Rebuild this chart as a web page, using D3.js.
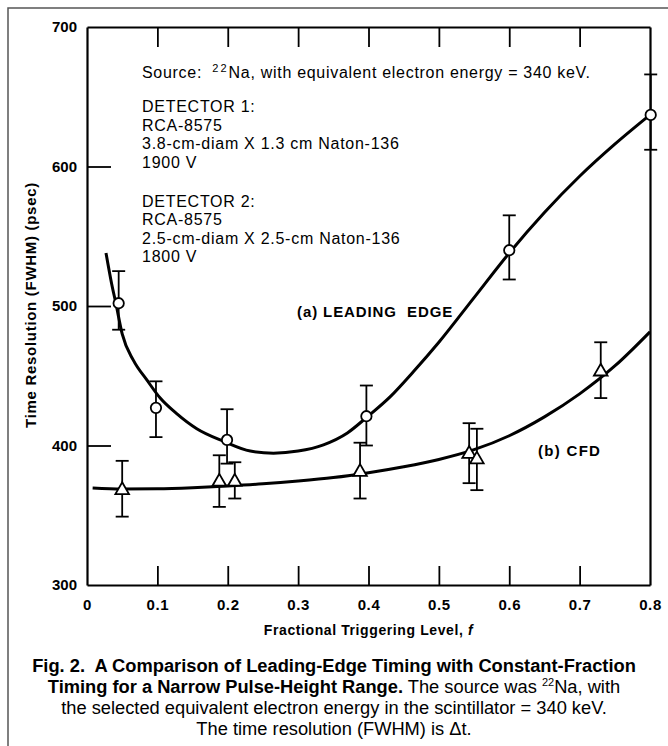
<!DOCTYPE html>
<html>
<head>
<meta charset="utf-8">
<script src="https://cdn.jsdelivr.net/npm/d3@7"></script>
<style>
  html, body { margin: 0; padding: 0; background: #fff; }
  svg { display: block; }
  text { font-family: "Liberation Sans", Arial, Helvetica, sans-serif; fill: #000; }
</style>
</head>
<body>
<svg id="chart" width="668" height="746"></svg>
<script>
// ---- data ----
const xTicks = [0, 0.1, 0.2, 0.3, 0.4, 0.5, 0.6, 0.7, 0.8];
const yTicks = [300, 400, 500, 600, 700];

// (a) leading edge: measured points (circles)
const leFrac = [0.045, 0.098, 0.199, 0.397, 0.600, 0.801];
const leRes  = [502, 427, 404, 421, 540, 637];
const leLo   = [483, 406, 387, 400, 519, 612];
const leHi   = [525, 446, 426, 443, 565, 666];

// (b) CFD: measured points (triangles)
const cfdFrac = [0.050, 0.188, 0.210, 0.388, 0.543, 0.554, 0.730];
const cfdRes  = [368, 374, 374, 381, 394, 390, 453];
const cfdLo   = [349, 356, 362, 362, 373, 368, 434];
const cfdHi   = [389, 393, 388, 402, 416, 412, 474];

// fitted curves
const leCurveFrac = [0.027, 0.035, 0.041, 0.050, 0.066, 0.085, 0.104, 0.127, 0.156, 0.194, 0.232, 0.265, 0.300, 0.336, 0.370, 0.397, 0.431, 0.464, 0.500, 0.550, 0.600, 0.650, 0.700, 0.750, 0.800];
const leCurveRes  = [538, 516, 502, 480, 461, 447, 434, 423, 412, 403, 396, 394.5, 396, 400.5, 409, 420, 435, 453, 474, 506, 538, 567, 593, 616, 637];
const cfdCurveFrac = [0.008, 0.05, 0.10, 0.15, 0.20, 0.25, 0.30, 0.35, 0.40, 0.45, 0.50, 0.55, 0.60, 0.65, 0.70, 0.75, 0.80];
const cfdCurveRes  = [369.5, 368.8, 369, 369.8, 371, 372.5, 374.5, 377, 380.5, 384.8, 390, 397, 407, 420.5, 437, 457, 481.5];

const annotLines = [
  "DETECTOR 1:", "RCA-8575", "3.8-cm-diam X 1.3 cm Naton-136", "1900 V",
  "DETECTOR 2:", "RCA-8575", "2.5-cm-diam X 2.5-cm Naton-136", "1800 V"
];

// ---- drawing ----
(function () {
const svg = d3.select("#chart");
const pL = 87, pR = 650, pT = 27, pB = 585;

const x = d3.scaleLinear().domain([0, 0.8]).range([pL, pR]);
const y = d3.scaleLinear().domain([300, 700]).range([pB, pT]);

// outer frame
svg.append("rect").attr("x", 8).attr("y", 8).attr("width", 700).attr("height", 800)
  .attr("fill", "none").attr("stroke", "#555").attr("stroke-width", 1.5);

// axes
const bottomAxis = d3.axisBottom(x).tickValues(xTicks).tickSizeInner(-19).tickSizeOuter(0)
  .tickPadding(14).tickFormat(d => d === 0 ? "0" : d3.format(".1f")(d));
const gB = svg.append("g").attr("transform", `translate(0,${pB})`).call(bottomAxis);

const topAxis = d3.axisTop(x).tickValues(xTicks.slice(1, -1)).tickSizeInner(-20).tickSizeOuter(0).tickFormat("");
const gT = svg.append("g").attr("transform", `translate(0,${pT})`).call(topAxis);

const leftAxis = d3.axisLeft(y).tickValues(yTicks).tickSizeInner(-24).tickSizeOuter(0).tickPadding(10)
  .tickFormat(d3.format("d"));
const gL = svg.append("g").attr("transform", `translate(${pL},0)`).call(leftAxis);

const rightAxis = d3.axisRight(y).tickValues([]).tickSizeOuter(0);
const gR = svg.append("g").attr("transform", `translate(${pR},0)`).call(rightAxis);

[gB, gT, gL, gR].forEach(g => {
  g.select(".domain").attr("stroke", "#000").attr("stroke-width", 2.2);
  g.selectAll(".tick line").attr("stroke", "#000").attr("stroke-width", 1.8);
  g.selectAll(".tick text").attr("font-size", 15).attr("font-weight", "bold")
    .attr("fill", "#000").style("font-family", '"Liberation Sans", Arial, sans-serif');
});
gB.selectAll(".tick text").attr("letter-spacing", 0.6);
gB.selectAll(".tick line").filter(d => d === 0 || d === 0.8).remove();
gL.selectAll(".tick line").filter(d => d === 300 || d === 700).remove();

// axis titles
svg.append("text").attr("x", (pL + pR) / 2).attr("y", 635)
  .attr("text-anchor", "middle").attr("font-size", 14).attr("font-weight", "bold")
  .attr("letter-spacing", 0.6)
  .call(t => {
    t.append("tspan").text("Fractional Triggering Level, ");
    t.append("tspan").attr("font-style", "italic").text("f");
  });

svg.append("text").attr("transform", "translate(36,305) rotate(-90)")
  .attr("text-anchor", "middle").attr("font-size", 15).attr("font-weight", "bold")
  .attr("letter-spacing", 0.7)
  .text("Time Resolution (FWHM) (psec)");

// curves
const line = d3.line().x(d => x(d[0])).y(d => y(d[1])).curve(d3.curveMonotoneX);
svg.append("path").datum(d3.zip(leCurveFrac, leCurveRes)).attr("d", line)
  .attr("fill", "none").attr("stroke", "#000").attr("stroke-width", 3);
svg.append("path").datum(d3.zip(cfdCurveFrac, cfdCurveRes)).attr("d", line)
  .attr("fill", "none").attr("stroke", "#000").attr("stroke-width", 3);

// error bars
function errorBars(fr, lo, hi) {
  const g = svg.append("g").attr("stroke", "#000").attr("stroke-width", 1.8);
  fr.forEach((f, i) => {
    g.append("line").attr("x1", x(f)).attr("x2", x(f)).attr("y1", y(lo[i])).attr("y2", y(hi[i]));
    g.append("line").attr("x1", x(f) - 6.5).attr("x2", x(f) + 6.5).attr("y1", y(lo[i])).attr("y2", y(lo[i]));
    g.append("line").attr("x1", x(f) - 6.5).attr("x2", x(f) + 6.5).attr("y1", y(hi[i])).attr("y2", y(hi[i]));
  });
}
errorBars(leFrac, leLo, leHi);
errorBars(cfdFrac, cfdLo, cfdHi);

// markers
svg.append("g").selectAll("circle").data(d3.zip(leFrac, leRes)).join("circle")
  .attr("cx", d => x(d[0])).attr("cy", d => y(d[1])).attr("r", 5.2)
  .attr("fill", "#fff").attr("stroke", "#000").attr("stroke-width", 1.8);

const tri = d3.symbol().type(d3.symbolTriangle).size(80);
svg.append("g").selectAll("path").data(d3.zip(cfdFrac, cfdRes)).join("path")
  .attr("d", tri).attr("transform", d => `translate(${x(d[0])},${y(d[1])})`)
  .attr("fill", "#fff").attr("stroke", "#000").attr("stroke-width", 1.8);

// curve labels
svg.append("text").attr("x", 297).attr("y", 317).attr("font-size", 15).attr("font-weight", "bold")
  .attr("letter-spacing", 0.9).style("white-space", "pre")
  .text("(a) LEADING  EDGE");
svg.append("text").attr("x", 538).attr("y", 456).attr("font-size", 15).attr("font-weight", "bold")
  .attr("letter-spacing", 1.3).text("(b) CFD");

// annotation block
const src = svg.append("text").attr("x", 142).attr("y", 77.5).attr("font-size", 16)
  .attr("letter-spacing", 0.7).style("white-space", "pre");
src.append("tspan").text("Source:  ");
src.append("tspan").attr("font-size", 11).attr("dy", -6).attr("letter-spacing", 2).text("22");
src.append("tspan").attr("dy", 6).text("Na, with equivalent electron energy = 340 keV.");

const annotY = [111.5, 130.5, 149, 168, 206.5, 224.5, 243.5, 261.5];
svg.append("g").selectAll("text").data(annotLines).join("text")
  .attr("x", 142).attr("y", (d, i) => annotY[i]).attr("font-size", 16)
  .attr("letter-spacing", 0.73).text(d => d);

// caption
const cap = svg.append("g").attr("font-size", 18.3);
cap.append("text").attr("x", 334).attr("y", 672).attr("text-anchor", "middle")
  .attr("font-weight", "bold").style("white-space", "pre")
  .text("Fig. 2.  A Comparison of Leading-Edge Timing with Constant-Fraction");
const c2 = cap.append("text").attr("x", 334).attr("y", 693).attr("text-anchor", "middle").style("white-space", "pre");
c2.append("tspan").attr("font-weight", "bold").text("Timing for a Narrow Pulse-Height Range.");
c2.append("tspan").text(" The source was ");
c2.append("tspan").attr("font-size", 11).attr("dy", -7).text("22");
c2.append("tspan").attr("dy", 7).text("Na, with");
cap.append("text").attr("x", 334).attr("y", 714).attr("text-anchor", "middle")
  .text("the selected equivalent electron energy in the scintillator = 340 keV.");
cap.append("text").attr("x", 334).attr("y", 735).attr("text-anchor", "middle")
  .text("The time resolution (FWHM) is \u0394t.");
})();
</script>
</body>
</html>
